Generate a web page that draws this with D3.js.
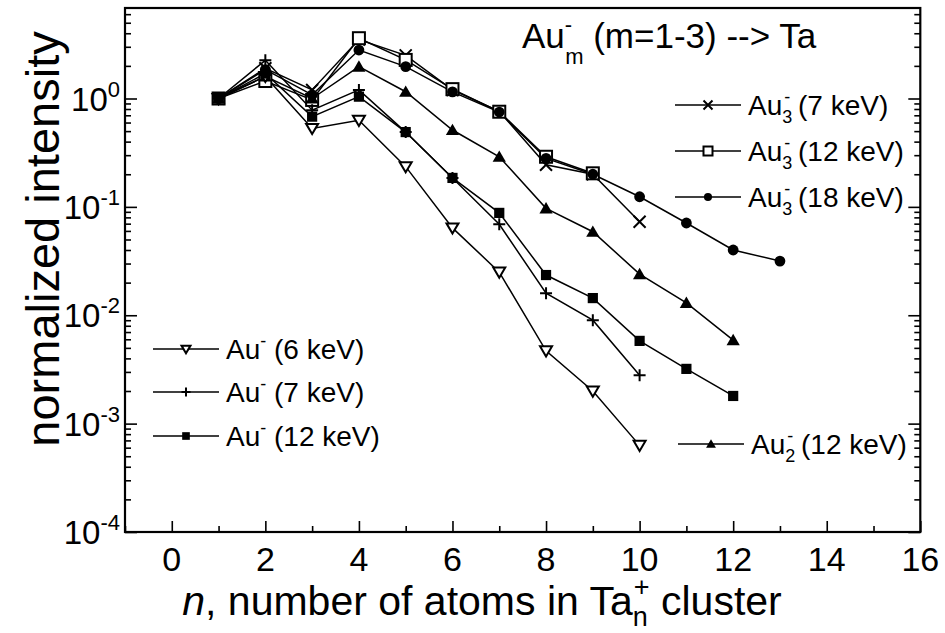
<!DOCTYPE html>
<html><head><meta charset="utf-8">
<script src="https://cdn.jsdelivr.net/npm/d3@7"></script>
<style>
html,body{margin:0;padding:0;background:#fff;}
text{font-family:"Liberation Sans",Arial,Helvetica,sans-serif;fill:#000;}
</style></head>
<body><svg id="chart" width="945" height="633"></svg>
<script>
// ---------- data ----------
const nValues = [1,2,3,4,5,6,7,8,9,10,11,12,13];
const au3_7keV  = [1, 1.9, 1.2, 3.5, 2.5, 1.2, 0.76, 0.245, 0.2, 0.073];
const au3_12keV = [1, 1.45, 0.97, 3.6, 2.27, 1.22, 0.755, 0.29, 0.204];
const au3_18keV = [1, 1.85, 1.08, 2.8, 1.97, 1.15, 0.75, 0.28, 0.2, 0.124, 0.071, 0.040, 0.0316];
const au2_12keV = [1, 1.6, 1.0, 1.97, 1.155, 0.512, 0.29, 0.097, 0.059, 0.024, 0.013, 0.0059];
const au_6keV   = [1, 1.6, 0.53, 0.63, 0.235, 0.064, 0.025, 0.0047, 0.002, 0.00063];
const au_7keV   = [1, 2.25, 0.78, 1.2, 0.49, 0.185, 0.069, 0.016, 0.009, 0.0028];
const au_12keV  = [1, 1.7, 0.68, 1.04, 0.49, 0.185, 0.088, 0.0235, 0.0144, 0.0058, 0.0032, 0.0018];
const xTickValues = [0,2,4,6,8,10,12,14,16];
const xMinorValues = [-1,1,3,5,7,9,11,13,15];
const yDecadeExps = [-4,-3,-2,-1,0];

const series = [
  {name:"au3_7",  vals:au3_7keV,  sym:"x"},
  {name:"au3_12", vals:au3_12keV, sym:"sqOpen"},
  {name:"au3_18", vals:au3_18keV, sym:"circle"},
  {name:"au2_12", vals:au2_12keV, sym:"tri"},
  {name:"au_6",   vals:au_6keV,   sym:"triDownOpen"},
  {name:"au_7",   vals:au_7keV,   sym:"plus"},
  {name:"au_12",  vals:au_12keV,  sym:"sqFilled"}
];

// ---------- layout ----------
const svg = d3.select("#chart");
const L = 125, R = 920.3, T = 8, B = 532;
const yTop = Math.pow(10, (B - T) / ((B - 98.5) / 4) - 4);
const x = d3.scaleLinear().domain([-1,16]).range([L,R]);
const y = d3.scaleLog().domain([1e-4, yTop]).range([B,T]);

// ---------- markers ----------
function drawMarker(g, sym, s) {
  const h = s/2;
  if (sym === "x") {
    g.append("path").attr("d", `M${-h},${-h}L${h},${h}M${-h},${h}L${h},${-h}`)
      .attr("stroke","#000").attr("stroke-width",2).attr("fill","none");
  } else if (sym === "plus") {
    g.append("path").attr("d", `M${-h},0L${h},0M0,${-h}L0,${h}`)
      .attr("stroke","#000").attr("stroke-width",2).attr("fill","none");
  } else if (sym === "sqOpen") {
    g.append("rect").attr("x",-h).attr("y",-h).attr("width",s).attr("height",s)
      .attr("fill","#fff").attr("stroke","#000").attr("stroke-width",2);
  } else if (sym === "sqFilled") {
    g.append("rect").attr("x",-h*0.85).attr("y",-h*0.85).attr("width",s*0.85).attr("height",s*0.85)
      .attr("fill","#000");
  } else if (sym === "circle") {
    g.append("circle").attr("r",h*0.9).attr("fill","#000");
  } else if (sym === "tri") {
    g.append("path").attr("d", `M0,${-h*1.05}L${h*1.1},${h*0.85}L${-h*1.1},${h*0.85}Z`).attr("fill","#000");
  } else if (sym === "triDownOpen") {
    g.append("path").attr("d", `M0,${h*0.95}L${h},${-h*0.75}L${-h},${-h*0.75}Z`)
      .attr("fill","#fff").attr("stroke","#000").attr("stroke-width",2);
  }
}

// ---------- lines & points ----------
const line = d3.line().x(d => x(d[0])).y(d => y(d[1]));
const plot = svg.append("g");
series.forEach(s => {
  const pts = s.vals.map((v,i) => [nValues[i], v]);
  plot.append("path").datum(pts).attr("d", line)
    .attr("fill","none").attr("stroke","#000").attr("stroke-width",1.5);
});
series.forEach(s => {
  s.vals.forEach((v,i) => {
    const g = plot.append("g").attr("transform", `translate(${x(nValues[i])},${y(v)})`);
    drawMarker(g, s.sym, 12);
  });
});

// ---------- axes ----------
const yMinor = [];
yDecadeExps.forEach(k => { for (let m = 2; m <= 9; m++) { const v = m*Math.pow(10,k); if (v < yTop) yMinor.push(v); } });
const yMajor = yDecadeExps.map(k => Math.pow(10,k));

function styleAxis(g){ g.select(".domain").remove(); g.selectAll(".tick line").attr("stroke","#000").attr("stroke-width",1.6); g.selectAll(".tick text").remove(); }

svg.append("g").attr("transform",`translate(0,${B})`)
  .call(d3.axisBottom(x).tickValues(xTickValues).tickSize(-11).tickFormat("")).call(styleAxis);
svg.append("g").attr("transform",`translate(0,${B})`)
  .call(d3.axisBottom(x).tickValues(xMinorValues).tickSize(-6).tickFormat("")).call(styleAxis);
svg.append("g").attr("transform",`translate(${L},0)`)
  .call(d3.axisLeft(y).tickValues(yMajor).tickSize(-12).tickFormat("")).call(styleAxis);
svg.append("g").attr("transform",`translate(${L},0)`)
  .call(d3.axisLeft(y).tickValues(yMinor).tickSize(-6).tickFormat("")).call(styleAxis);
svg.append("g").attr("transform",`translate(${R},0)`)
  .call(d3.axisRight(y).tickValues(yMajor).tickSize(-12).tickFormat("")).call(styleAxis);
svg.append("g").attr("transform",`translate(${R},0)`)
  .call(d3.axisRight(y).tickValues(yMinor).tickSize(-6).tickFormat("")).call(styleAxis);

svg.append("rect").attr("x",L).attr("y",T).attr("width",R-L).attr("height",B-T)
  .attr("fill","none").attr("stroke","#000").attr("stroke-width",2.2);

// tick labels
svg.append("g").selectAll("text").data(xTickValues).join("text")
  .attr("x", d => x(d)).attr("y", B + 39).attr("text-anchor","middle")
  .attr("font-size", 34).text(d => d);

const yl = svg.append("g").selectAll("text").data(yDecadeExps).join("text")
  .attr("x", 120).attr("y", d => y(Math.pow(10,d)) + 12).attr("text-anchor","end")
  .attr("font-size", 33);
yl.append("tspan").text("10");
yl.append("tspan").attr("dy",-14).attr("font-size",22).text(d => d === 0 ? "0" : "-" + Math.abs(d));

// axis titles
svg.append("text").attr("transform","translate(59,239) rotate(-90)").attr("text-anchor","middle")
  .attr("font-size", 47).text("normalized intensity");

const xt = svg.append("text").attr("x", 482).attr("y", 615).attr("text-anchor","middle").attr("font-size", 41);
xt.append("tspan").attr("font-style","italic").text("n");
xt.append("tspan").text(", number of atoms in Ta");
xt.append("tspan").attr("font-size",27).attr("dy",11).text("n");
xt.append("tspan").attr("font-size",27).attr("dx",-14).attr("dy",-30).text("+");
xt.append("tspan").attr("dy",19).text(" cluster");

// plot title
const tt = svg.append("text").attr("x", 522).attr("y", 48).attr("font-size", 35);
tt.append("tspan").text("Au");
tt.append("tspan").attr("font-size",22).attr("dy",-16).text("-");
tt.append("tspan").attr("font-size",22).attr("dx",-7).attr("dy",32).text("m");
tt.append("tspan").attr("dy",-16).text(" (m=1-3) --> Ta");

// ---------- legends ----------
const legendItems = [
  {sym:"x",          sub:"3", label:" (7 keV)",  lx:675, ly:105},
  {sym:"sqOpen",     sub:"3", label:" (12 keV)", lx:675, ly:151},
  {sym:"circle",     sub:"3", label:" (18 keV)", lx:675, ly:197},
  {sym:"triDownOpen",sub:"",  label:" (6 keV)",  lx:153, ly:349},
  {sym:"plus",       sub:"",  label:" (7 keV)",  lx:153, ly:392},
  {sym:"sqFilled",   sub:"",  label:" (12 keV)", lx:153, ly:436},
  {sym:"tri",        sub:"2", label:" (12 keV)", lx:678, ly:444}
];
legendItems.forEach(it => {
  const g = svg.append("g");
  g.append("line").attr("x1",it.lx).attr("x2",it.lx+66).attr("y1",it.ly).attr("y2",it.ly)
    .attr("stroke","#000").attr("stroke-width",1.5);
  const mg = g.append("g").attr("transform",`translate(${it.lx+33},${it.ly})`);
  drawMarker(mg, it.sym, 9);
  const t = g.append("text").attr("x", it.lx+73).attr("y", it.ly+10).attr("font-size", 28);
  t.append("tspan").text("Au");
  if (it.sub) {
    t.append("tspan").attr("font-size",18).attr("dy",8).text(it.sub);
    t.append("tspan").attr("font-size",18).attr("dx",-8).attr("dy",-20).text("-");
    t.append("tspan").attr("dy",12).text(it.label);
  } else {
    t.append("tspan").attr("font-size",18).attr("dy",-12).text("-");
    t.append("tspan").attr("dy",12).text(it.label);
  }
});
</script></body></html>
